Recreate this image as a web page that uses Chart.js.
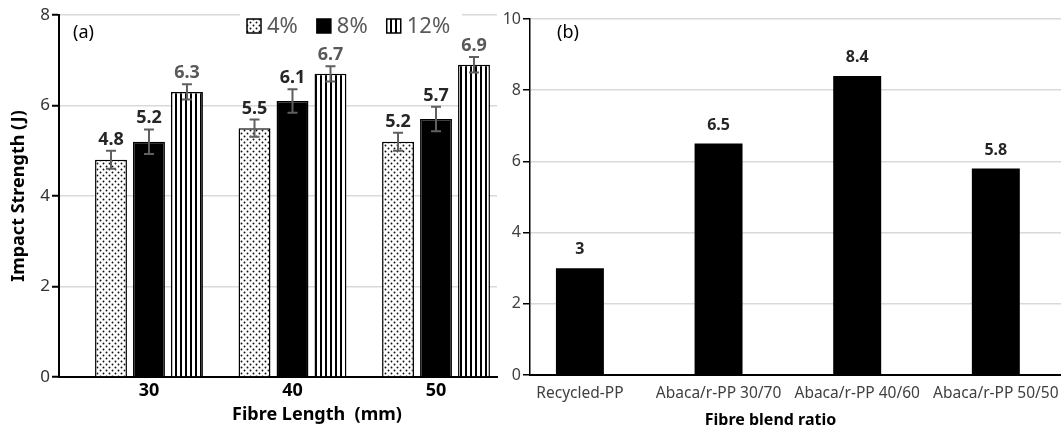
<!DOCTYPE html>
<html>
<head>
<meta charset="utf-8">
<script src="https://cdn.jsdelivr.net/npm/chart.js@4.4.0/dist/chart.umd.min.js"></script>
<style>
  html, body { margin: 0; padding: 0; background: #fff; }
  #wrap { position: relative; width: 1061px; height: 431px; overflow: hidden; }
  #chartA { position: absolute; left: 0; top: 0; }
  #chartB { position: absolute; left: 490px; top: 0; }
</style>
</head>
<body>
<div id="wrap">
  <canvas id="chartA" width="500" height="431"></canvas>
  <canvas id="chartB" width="571" height="431"></canvas>
</div>
<script>
// (a) impact strength vs fibre length
const fibreLengths = ["30", "40", "50"];
const fibreContents = ["4%", "8%", "12%"];
const strength4 = [4.8, 5.5, 5.2];
const strength8 = [5.2, 6.1, 5.7];
const strength12 = [6.3, 6.7, 6.9];
const error4 = [0.2, 0.19, 0.2];
const error8 = [0.27, 0.26, 0.27];
const error12 = [0.17, 0.17, 0.17];

// (b) impact strength vs blend ratio
const blendRatios = ["Recycled-PP", "Abaca/r-PP 30/70", "Abaca/r-PP 40/60", "Abaca/r-PP 50/50"];
const blendStrength = [3, 6.5, 8.4, 5.8];

Chart.defaults.font.family = "'Noto Sans', sans-serif";

const toPoints = (values) => values.map((v, i) => ({ x: i, y: v }));

/** Fill patterns */
function dotPattern(ctx) {
  const c = document.createElement("canvas");
  c.width = 6;
  c.height = 6;
  const g = c.getContext("2d");
  g.fillStyle = "#fff";
  g.fillRect(0, 0, 6, 6);
  g.fillStyle = "#111";
  g.beginPath();
  g.arc(1.5, 1.5, 0.95, 0, Math.PI * 2);
  g.arc(4.5, 4.5, 0.95, 0, Math.PI * 2);
  g.fill();
  return ctx.createPattern(c, "repeat");
}

function stripePattern(ctx) {
  const c = document.createElement("canvas");
  c.width = 5;
  c.height = 5;
  const g = c.getContext("2d");
  g.fillStyle = "#fff";
  g.fillRect(0, 0, 5, 5);
  g.fillStyle = "#000";
  g.fillRect(0, 0, 2, 5);
  return ctx.createPattern(c, "repeat");
}

/** Error bars + value labels */
const barAnnotations = {
  id: "barAnnotations",
  afterDatasetsDraw(chart, args, opts) {
    const ctx = chart.ctx;
    const yScale = chart.scales.y;
    ctx.save();
    chart.data.datasets.forEach((ds, i) => {
      const meta = chart.getDatasetMeta(i);
      meta.data.forEach((bar, j) => {
        const v = ds.data[j].y;
        let top = bar.y;
        if (ds.errors) {
          const e = ds.errors[j];
          const yHi = yScale.getPixelForValue(v + e);
          const yLo = yScale.getPixelForValue(v - e);
          ctx.strokeStyle = "#5f5f5f";
          ctx.lineWidth = 2;
          ctx.beginPath();
          ctx.moveTo(bar.x, yHi);
          ctx.lineTo(bar.x, yLo);
          ctx.moveTo(bar.x - 5, yHi);
          ctx.lineTo(bar.x + 5, yHi);
          ctx.moveTo(bar.x - 5, yLo);
          ctx.lineTo(bar.x + 5, yLo);
          ctx.stroke();
          top = yHi;
        }
        ctx.fillStyle = ds.labelColor || "#262626";
        ctx.font = opts.labelFont;
        ctx.textAlign = "center";
        ctx.textBaseline = "alphabetic";
        ctx.fillText(String(v), bar.x, top - opts.gap);
      });
    });
    ctx.restore();
  }
};

/** Free text on the chart: panel tags and off-centre axis captions */
const captions = {
  id: "captions",
  afterDraw(chart, args, opts) {
    const ctx = chart.ctx;
    const area = chart.chartArea;
    ctx.save();
    ctx.fillStyle = "#000";
    ctx.textBaseline = "middle";
    opts.items.forEach((item) => {
      ctx.font = item.font;
      ctx.textAlign = item.align;
      const x = item.fromCenter ? (area.left + area.right) / 2 + item.dx : area.left + item.dx;
      const y = item.fromBottom ? area.bottom + item.dy : area.top + item.dy;
      ctx.fillText(item.text, x, y);
    });
    ctx.restore();
  }
};

/** Legend drawn over the plot (white box hides the top gridline) */
const overlayLegend = {
  id: "overlayLegend",
  afterDraw(chart) {
    const ctx = chart.ctx;
    const area = chart.chartArea;
    ctx.save();
    ctx.fillStyle = "#fff";
    ctx.fillRect(area.left + 181, area.top - 3, 222, 27);
    ctx.font = "22px 'Noto Sans'";
    ctx.textBaseline = "middle";
    ctx.textAlign = "left";
    let x = area.left + 188;
    const y = area.top + 11;
    chart.data.datasets.forEach((ds) => {
      ctx.fillStyle = ds.backgroundColor;
      ctx.fillRect(x, y - 7, 14, 14);
      ctx.strokeStyle = "#000";
      ctx.lineWidth = 1.5;
      ctx.strokeRect(x, y - 7, 14, 14);
      ctx.fillStyle = "#595959";
      ctx.fillText(ds.label, x + 20, y + 1);
      x += 20 + ctx.measureText(ds.label).width + 19;
    });
    ctx.restore();
  }
};

const ctxA = document.getElementById("chartA").getContext("2d");
const ctxB = document.getElementById("chartB").getContext("2d");

new Chart(ctxA, {
  type: "bar",
  data: {
    datasets: [
      {
        label: fibreContents[0],
        data: toPoints(strength4),
        errors: error4,
        backgroundColor: dotPattern(ctxA),
        borderColor: "#000",
        borderWidth: 1.5,
        labelColor: "#262626",
      },
      {
        label: fibreContents[1],
        data: toPoints(strength8),
        errors: error8,
        backgroundColor: "#000",
        borderColor: "#000",
        borderWidth: 1.5,
        labelColor: "#262626",
      },
      {
        label: fibreContents[2],
        data: toPoints(strength12),
        errors: error12,
        backgroundColor: stripePattern(ctxA),
        borderColor: "#000",
        borderWidth: 1.5,
        labelColor: "#595959",
      },
    ],
  },
  options: {
    responsive: false,
    animation: false,
    layout: { padding: { top: 15, right: 3, left: 0, bottom: 0 } },
    datasets: { bar: { categoryPercentage: 0.794, barPercentage: 0.84 } },
    plugins: {
      legend: { display: false },
      tooltip: { enabled: false },
      barAnnotations: { labelFont: "bold 18px 'Noto Sans'", gap: 6 },
      captions: {
        items: [
          { text: "(a)", font: "18px 'Noto Sans'", align: "left", dx: 14, dy: 18 },
          { text: "Fibre Length  (mm)", font: "bold 18px 'Noto Sans'", align: "center",
            fromCenter: true, fromBottom: true, dx: 39, dy: 38 },
        ],
      },
    },
    scales: {
      x: {
        type: "linear",
        min: -0.627,
        max: 2.425,
        offset: false,
        grid: { display: false, drawTicks: false, offset: false },
        border: { display: true, color: "#000", width: 2 },
        ticks: {
          stepSize: 1,
          includeBounds: false,
          autoSkip: false,
          maxRotation: 0,
          padding: 3,
          color: "#000",
          font: { size: 18, weight: "bold" },
          callback: (v) => (Number.isInteger(v) ? fibreLengths[v] : ""),
        },
        afterFit: (s) => { s.height = 54; },
      },
      y: {
        min: 0,
        max: 8,
        ticks: { stepSize: 2, padding: 2, color: "#333", font: { size: 17 } },
        grid: { color: "#d9d9d9", lineWidth: 1.5, tickColor: "#000", tickLength: 7, tickWidth: 2 },
        border: { color: "#000", width: 2 },
        title: {
          display: true,
          text: "Impact Strength (J)",
          color: "#000",
          font: { size: 18, weight: "bold" },
          padding: { top: 8, bottom: 0 },
        },
        afterFit: (s) => { s.width = 59; },
      },
    },
  },
  plugins: [barAnnotations, overlayLegend, captions],
});

new Chart(ctxB, {
  type: "bar",
  data: {
    datasets: [
      {
        label: "Impact strength",
        data: toPoints(blendStrength),
        backgroundColor: "#000",
        borderWidth: 0,
        labelColor: "#262626",
      },
    ],
  },
  options: {
    responsive: false,
    animation: false,
    layout: { padding: { top: 19, right: 0, left: 0, bottom: 0 } },
    datasets: { bar: { categoryPercentage: 1, barPercentage: 0.346 } },
    plugins: {
      legend: { display: false },
      tooltip: { enabled: false },
      barAnnotations: { labelFont: "bold 16px 'Noto Sans'", gap: 14 },
      captions: {
        items: [
          { text: "(b)", font: "18px 'Noto Sans'", align: "left", dx: 27, dy: 14 },
          { text: "Fibre blend ratio", font: "bold 16px 'Noto Sans'", align: "center",
            fromCenter: true, fromBottom: true, dx: -25, dy: 45 },
        ],
      },
    },
    scales: {
      x: {
        type: "linear",
        min: -0.36,
        max: 3.47,
        offset: false,
        grid: { display: false, drawTicks: false, offset: false },
        border: { display: true, color: "#000", width: 2 },
        ticks: {
          stepSize: 1,
          includeBounds: false,
          autoSkip: false,
          maxRotation: 0,
          padding: 9,
          color: "#404040",
          font: { size: 15.5 },
          callback: (v) => (Number.isInteger(v) ? blendRatios[v] : ""),
        },
        // last label reaches the page edge; keep the plot full width anyway
        afterFit: (s) => { s.height = 56; s.paddingLeft = 0; s.paddingRight = 0; },
      },
      y: {
        min: 0,
        max: 10,
        ticks: { stepSize: 2, padding: 2, color: "#404040", font: { size: 16 } },
        grid: { color: "#d9d9d9", lineWidth: 1.5, tickColor: "#000", tickLength: 7, tickWidth: 1.5 },
        border: { color: "#000", width: 1.5 },
        afterFit: (s) => { s.width = 40; },
      },
    },
  },
  plugins: [barAnnotations, captions],
});
</script>
</body>
</html>
